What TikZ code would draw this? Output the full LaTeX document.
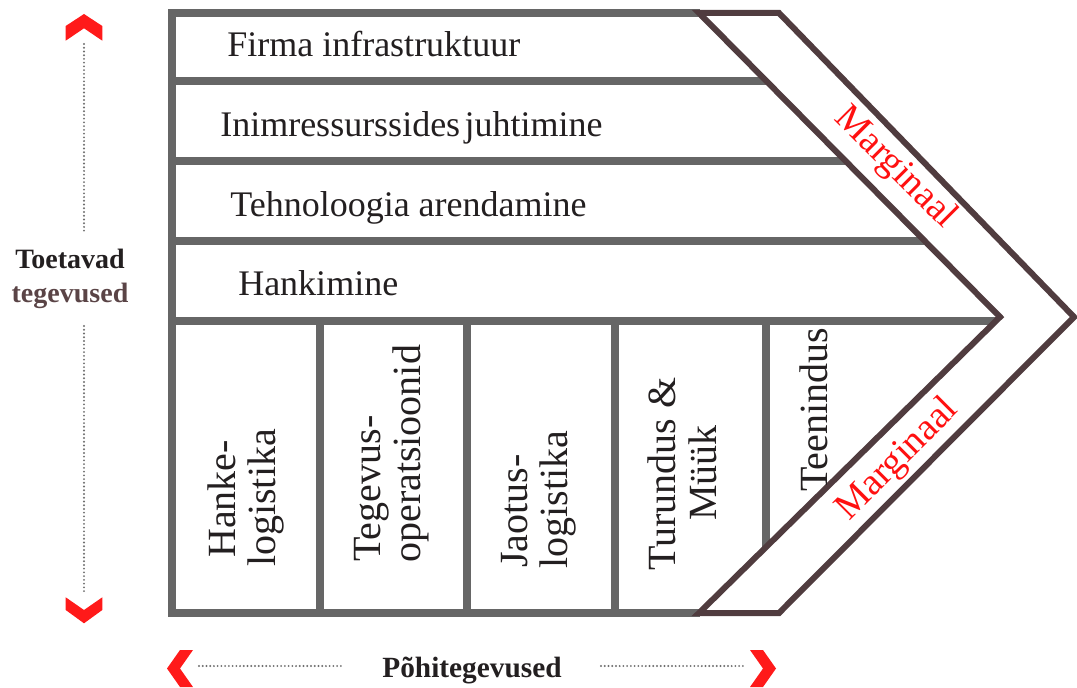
\documentclass[tikz,border=0pt]{standalone}
\usepackage{fontspec}
\setmainfont{Liberation Serif}
\definecolor{grayline}{HTML}{666666}
\definecolor{chev}{HTML}{503C3F}
\definecolor{redarrow}{HTML}{FF1A1A}
\definecolor{margred}{HTML}{FF1010}
\definecolor{brownlabel}{HTML}{5A4446}
\definecolor{dotgray}{HTML}{6E6E6E}
\definecolor{textdark}{HTML}{231F20}
\tikzset{
  gline/.style={draw=grayline, line width=6pt},
  chevband/.style={draw=chev, line width=4.5pt, fill=white, line join=miter},
  redchev/.style={fill=redarrow, draw=none},
  dots/.style={draw=dotgray, line width=1.6pt, line cap=round, dash pattern=on 0pt off 2.8pt},
  hlabel/.style={anchor=base west, inner sep=0pt, font=\fontsize{27}{27}\selectfont, text=textdark},
  vlabel/.style={rotate=90, inner sep=0pt, font=\fontsize{30}{30}\selectfont, text=textdark},
  marg/.style={inner sep=0pt, font=\fontsize{28.5}{28.5}\selectfont, text=margred},
  sidelabel/.style={anchor=base, inner sep=0pt, font=\bfseries\fontsize{21}{21}\selectfont},
}
\begin{document}
\begin{tikzpicture}[x=0.75pt, y=-0.75pt]
\path[use as bounding box] (0,0) rectangle (1077,688);

% gray frame and rows
\draw[gline, line join=miter] (700,13) -- (172,13) -- (172,613) -- (700,613);
\draw[gline] (172,81) -- (770,81);
\draw[gline] (172,161) -- (849,161);
\draw[gline] (172,241) -- (928,241);
\draw[gline] (172,321) -- (1004,321);
% column dividers
\draw[gline] (320,321) -- (320,613);
\draw[gline] (467,321) -- (467,613);
\draw[gline] (615,321) -- (615,613);
\draw[gline] (766,321) -- (766,556);

% margin chevron band
\filldraw[chevband] (699,13) -- (779,13) -- (1074,317) -- (779,613) -- (699,613) -- (1000,317) -- cycle;

% support activity labels
\node[hlabel] (firma) at (227,57) {Firma infrastruktuur};
\node[hlabel] (inim) at (220,137) {Inimressurssides\hspace{0.12em}juhtimine};
\node[hlabel] (tehno) at (230,216) {Tehnoloogia arendamine};
\node[hlabel] (hank) at (238,295) {Hankimine};

% primary activity labels
\node[vlabel, anchor=base] (hl1) at (235,499) {Hanke-};
\node[vlabel, anchor=base] (hl2) at (275,498) {logistika};
\node[vlabel, anchor=base west] (to1) at (380,562) {Tegevus-};
\node[vlabel, anchor=base west] (to2) at (420,563) {operatsioonid};
\node[vlabel, anchor=base west] (jl1) at (527,568) {Jaotus-};
\node[vlabel, anchor=base west] (jl2) at (567,569) {logistika};
\node[vlabel, anchor=base] (tm1) at (675,474) {Turundus \&};
\node[vlabel, anchor=base] (tm2) at (716,473) {Müük};
\node[vlabel, anchor=base west] (teen) at (827,492) {Teenindus};

% margin labels
\node[marg, rotate=-45] (marg1) at (895,168) {Marginaal};
\node[marg, rotate=45] (marg2) at (898,460) {Marginaal};

% left axis
\fill[redchev] (84,14) -- (102.3,26) -- (102.3,40.7) -- (84,28.3) -- (65.7,40.7) -- (65.7,26) -- cycle;
\fill[redchev] (65.7,597.3) -- (84,610) -- (102.3,597.3) -- (102.3,610) -- (84,623.3) -- (65.7,610) -- cycle;
\coordinate (lt1) at (84,44);
\coordinate (lt2) at (84,234);
\coordinate (lb1) at (84,326);
\coordinate (lb2) at (84,594);
\draw[dots] (lt1) -- (lt2);
\draw[dots] (lb1) -- (lb2);
\node[sidelabel, text=textdark] (toet) at (70,268) {Toetavad};
\node[sidelabel, text=brownlabel] (tege) at (70,302) {tegevused};

% bottom axis
\fill[redchev] (180,650) -- (193,650) -- (180,668.5) -- (193,687) -- (180,687) -- (167,668.5) -- cycle;
\fill[redchev] (750,650) -- (763,650) -- (776,668.5) -- (763,687) -- (750,687) -- (763,668.5) -- cycle;
\coordinate (bl1) at (199,666);
\coordinate (bl2) at (343,666);
\coordinate (br1) at (601,666);
\coordinate (br2) at (745,666);
\draw[dots] (bl1) -- (bl2);
\draw[dots] (br1) -- (br2);
\node[sidelabel, text=textdark, font=\bfseries\fontsize{22}{22}\selectfont] (pohi) at (472,677) {Põhitegevused};
\end{tikzpicture}
\end{document}
